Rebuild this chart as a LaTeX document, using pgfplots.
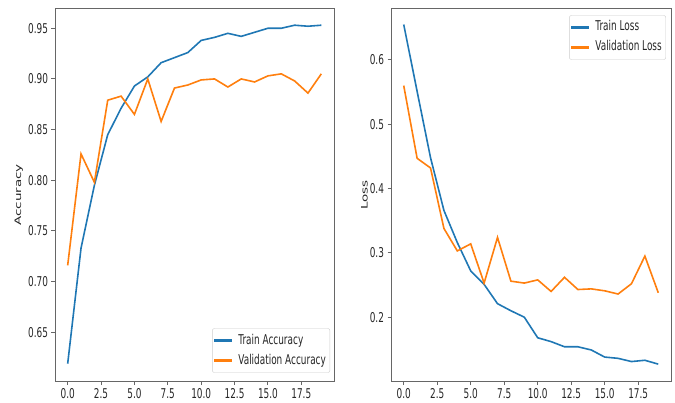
\documentclass[border=0pt]{standalone}
\usepackage{pgfplots}
\pgfplotsset{compat=1.18}
\usepackage{fontspec}
\setmainfont{DejaVu Sans}
\definecolor{tabblue}{HTML}{1F77B4}
\definecolor{taborange}{HTML}{FF7F0E}
\newcommand{\sq}[1]{\scalebox{0.66}[1]{#1}}
\newcommand{\fs}{\fontsize{13.5}{16}\selectfont}

\pgfplotsset{myax/.style={
  scale only axis, anchor=south west,
  width=279pt, height=373.5pt,
  xmin=-0.95, xmax=19.95,
  axis line style={black!60, line width=0.9pt},
  tick style={black!60, line width=0.9pt},
  tick align=outside, major tick length=3.5pt,
  xtick pos=bottom, ytick pos=left,
  /pgf/number format/assume math mode=true,
  xtick={0,2.5,5,7.5,10,12.5,15,17.5},
  xticklabel={\sq{\pgfmathprintnumber[fixed,fixed zerofill,precision=1]{\tick}}},
  every tick label/.append style={font=\fs, text=black!85},
  label style={font=\fs, text=black!85},
  legend style={draw=black!20, rounded corners=2pt, font=\fs, text=black!85,
    inner xsep=2pt, inner ysep=3.5pt, row sep=3pt, column sep=4pt,
    nodes={text height=10pt, text depth=3pt, inner sep=2pt}},
  legend cell align=left,
  legend image code/.code={\fill[#1, draw=none, sharp corners] (0pt,-1.1pt) rectangle (18pt,1.1pt);},
}}

\begin{document}
\begin{tikzpicture}
\useasboundingbox (0,0) rectangle (675pt,403pt);
\begin{axis}[myax, at={(55pt,21.3pt)},
  ymin=0.6012, ymax=0.9698,
  ytick={0.65,0.70,0.75,0.80,0.85,0.90,0.95},
  yticklabel={\sq{\pgfmathprintnumber[fixed,fixed zerofill,precision=2]{\tick}}},
  ylabel={\scalebox{1}[0.66]{Accuracy}},
  ylabel style={at={(axis description cs:-0.13,0.5)}, anchor=center},
  legend style={at={(axis description cs:0.986,0.024)}, anchor=south east},
]
\addplot[tabblue, line width=1.6pt] coordinates {
(0,0.619) (1,0.733) (2,0.795) (3,0.845) (4,0.871) (5,0.893) (6,0.902) (7,0.916)
(8,0.921) (9,0.926) (10,0.938) (11,0.941) (12,0.945) (13,0.942) (14,0.946)
(15,0.950) (16,0.950) (17,0.953) (18,0.952) (19,0.953)};
\addlegendentry{\sq{Train Accuracy}}
\addplot[taborange, line width=1.6pt] coordinates {
(0,0.716) (1,0.826) (2,0.798) (3,0.879) (4,0.883) (5,0.865) (6,0.900) (7,0.858)
(8,0.891) (9,0.894) (10,0.899) (11,0.900) (12,0.892) (13,0.900) (14,0.897)
(15,0.903) (16,0.905) (17,0.898) (18,0.886) (19,0.905)};
\addlegendentry{\sq{Validation Accuracy}}
\end{axis}
\begin{axis}[myax, at={(391pt,21.3pt)}, width=280pt,
  ymin=0.0997, ymax=0.6804,
  ytick={0.2,0.3,0.4,0.5,0.6},
  yticklabel={\sq{\pgfmathprintnumber[fixed,fixed zerofill,precision=1]{\tick}}},
  ylabel={\scalebox{1}[0.66]{Loss}},
  ylabel style={at={(axis description cs:-0.095,0.5)}, anchor=center},
  legend style={at={(axis description cs:0.982,0.981)}, anchor=north east},
]
\addplot[tabblue, line width=1.6pt] coordinates {
(0,0.655) (1,0.551) (2,0.448) (3,0.366) (4,0.316) (5,0.272) (6,0.251) (7,0.221)
(8,0.210) (9,0.200) (10,0.168) (11,0.162) (12,0.154) (13,0.154) (14,0.149)
(15,0.138) (16,0.136) (17,0.131) (18,0.133) (19,0.127)};
\addlegendentry{\sq{Train Loss}}
\addplot[taborange, line width=1.6pt] coordinates {
(0,0.560) (1,0.447) (2,0.432) (3,0.338) (4,0.303) (5,0.314) (6,0.253) (7,0.324)
(8,0.256) (9,0.253) (10,0.258) (11,0.240) (12,0.262) (13,0.243) (14,0.244)
(15,0.241) (16,0.236) (17,0.252) (18,0.295) (19,0.238)};
\addlegendentry{\sq{Validation Loss}}
\end{axis}
\end{tikzpicture}
\end{document}
